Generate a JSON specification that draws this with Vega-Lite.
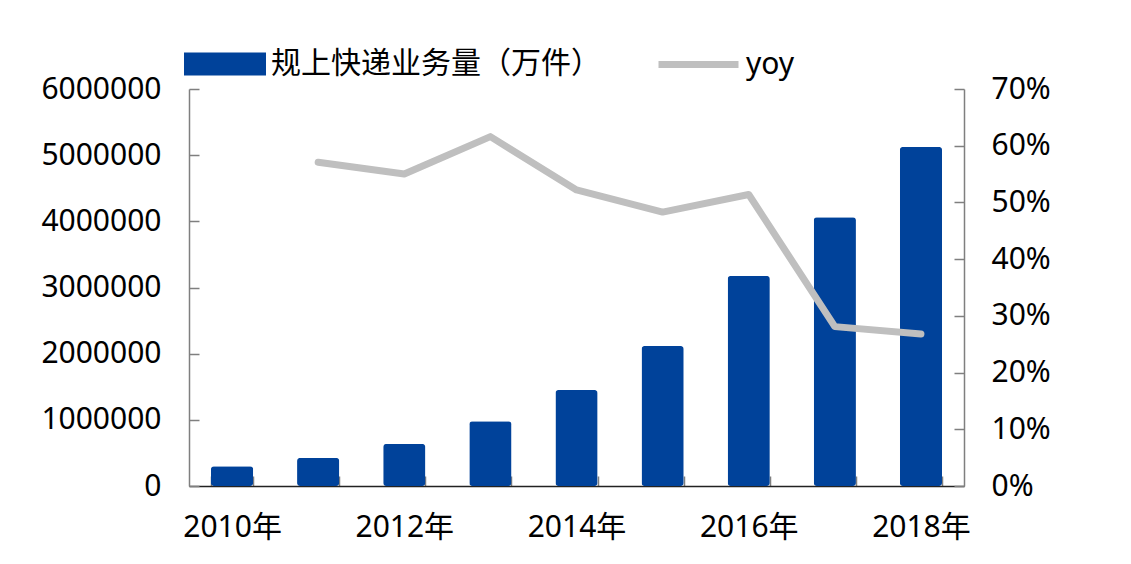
{
  "$schema": "https://vega.github.io/schema/vega-lite/v6.json",
  "width": 775,
  "height": 397,
  "autosize": {"type": "none"},
  "padding": {"left": 189, "top": 89, "right": 167, "bottom": 78},
  "background": "#ffffff",
  "config": {
    "view": {"stroke": null},
    "font": "Noto Sans",
    "axis": {
      "grid": false,
      "title": null,
      "labelFont": "Noto Sans, Noto Sans CJK SC",
      "labelFontSize": 30,
      "labelColor": "#000000",
      "domainColor": "#7f7f7f",
      "domainWidth": 1.5,
      "tickColor": "#7f7f7f",
      "tickWidth": 1.5,
      "tickSize": -10
    }
  },
  "data": {
    "values": [
      {"year": "2010", "volume": 300000, "yoy": null},
      {"year": "2011", "volume": 425000, "yoy": 0.571},
      {"year": "2012", "volume": 635000, "yoy": 0.550},
      {"year": "2013", "volume": 980000, "yoy": 0.616},
      {"year": "2014", "volume": 1450000, "yoy": 0.522},
      {"year": "2015", "volume": 2115000, "yoy": 0.483},
      {"year": "2016", "volume": 3175000, "yoy": 0.514},
      {"year": "2017", "volume": 4060000, "yoy": 0.281},
      {"year": "2018", "volume": 5125000, "yoy": 0.268}
    ]
  },
  "encoding": {
    "x": {
      "field": "year",
      "type": "ordinal",
      "scale": {"paddingInner": 0.51, "paddingOuter": 0.255},
      "axis": {
        "labelAngle": 0,
        "labelBaseline": "top",
        "labelPadding": 36,
        "labelOverlap": false,
        "tickBand": "extent",
        "domainColor": "#222222",
        "labelExpr": "isValid(datum.value) && toNumber(datum.value) % 2 == 0 ? datum.value + '年' : ''"
      }
    }
  },
  "layer": [
    {
      "mark": {"type": "bar", "cornerRadius": 3},
      "encoding": {
        "y": {
          "field": "volume",
          "type": "quantitative",
          "scale": {"domain": [0, 6000000]},
          "axis": {
            "orient": "left",
            "values": [0, 1000000, 2000000, 3000000, 4000000, 5000000, 6000000],
            "format": "d",
            "labelPadding": 38
          }
        },
        "fill": {
          "datum": "规上快递业务量（万件）",
          "type": "nominal",
          "scale": {"range": ["#00429A"]},
          "legend": {
            "title": null,
            "orient": "none",
            "legendX": -5,
            "legendY": -66,
            "padding": 0,
            "symbolType": "M-1,-0.28H1V0.28H-1Z",
            "symbolSize": 6724,
            "symbolStrokeWidth": 0,
            "labelFont": "Noto Sans CJK SC",
            "labelFontSize": 30,
            "labelLimit": 0,
            "labelColor": "#000000",
            "labelOffset": 5
          }
        }
      }
    },
    {
      "transform": [{"filter": "datum.yoy != null"}],
      "mark": {"type": "line", "strokeWidth": 7, "strokeCap": "round", "strokeJoin": "round"},
      "encoding": {
        "y": {
          "field": "yoy",
          "type": "quantitative",
          "scale": {"domain": [0, 0.7]},
          "axis": {
            "orient": "right",
            "values": [0, 0.1, 0.2, 0.3, 0.4, 0.5, 0.6, 0.7],
            "format": ".0%",
            "labelPadding": 37
          }
        },
        "stroke": {
          "datum": "yoy",
          "type": "nominal",
          "scale": {"range": ["#BFBFBF"]},
          "legend": {
            "title": null,
            "orient": "none",
            "legendX": 466,
            "legendY": -68,
            "padding": 0,
            "symbolType": "stroke",
            "symbolSize": 6400,
            "symbolStrokeWidth": 7,
            "symbolStrokeColor": "#BFBFBF",
            "labelFont": "Noto Sans",
            "labelFontSize": 30,
            "labelColor": "#000000",
            "labelOffset": 4
          }
        }
      }
    }
  ],
  "resolve": {"scale": {"y": "independent", "fill": "independent", "stroke": "independent"}}
}
